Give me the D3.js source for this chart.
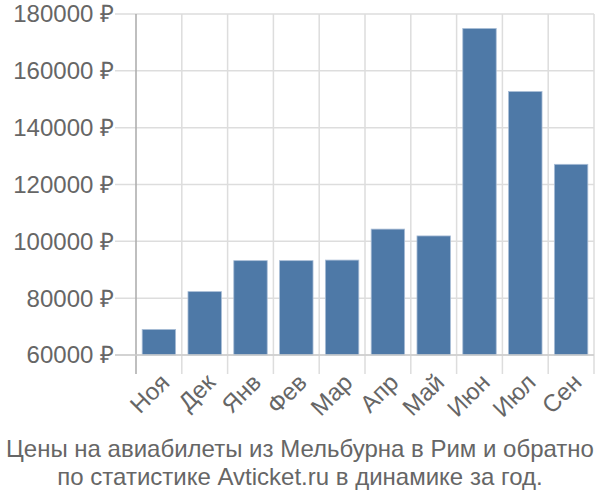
<!DOCTYPE html>
<html><head><meta charset="utf-8">
<script src="https://cdn.jsdelivr.net/npm/d3@7"></script>
<style>body{margin:0;background:#fff}svg{font-family:"Liberation Sans",Arial,sans-serif}</style>
</head><body><svg id="c" width="600" height="500"></svg>
<script>
const months = ["Ноя","Дек","Янв","Фев","Мар","Апр","Май","Июн","Июл","Сен"];
const prices = [69000,82300,93200,93200,93400,104300,101900,174900,152700,127100];
const yTicks = [60000,80000,100000,120000,140000,160000,180000];
const titleLines = ["Цены на авиабилеты из Мельбурна в Рим и обратно","по статистике Avticket.ru в динамике за год."];

const svg = d3.select("#c");
const L=136, R=594, T=14, B=355;
const x = d3.scaleBand().domain(months).range([L,R]).paddingInner(0.27).paddingOuter(0.135);
const xg = d3.scaleBand().domain(months).range([L,R]);
const y = d3.scaleLinear().domain([60000,180000]).range([B,T]);

// horizontal grid
svg.append("g").selectAll("line").data(yTicks).join("line")
  .attr("x1",115).attr("x2",R).attr("y1",d=>y(d)).attr("y2",d=>y(d))
  .attr("stroke","#dddddd").attr("stroke-width",1.5);
// vertical grid
svg.append("g").selectAll("line").data(months).join("line")
  .attr("x1",d=>xg(d)+xg.bandwidth()).attr("x2",d=>xg(d)+xg.bandwidth())
  .attr("y1",T).attr("y2",374).attr("stroke","#dddddd").attr("stroke-width",1.5);

// bars
svg.append("g").selectAll("rect").data(prices).join("rect")
  .attr("x",(d,i)=>x(months[i])).attr("width",x.bandwidth())
  .attr("y",d=>y(d)).attr("height",d=>B-y(d))
  .attr("fill","#4e79a7").attr("stroke","#a9bdd6").attr("stroke-width",0.8);

// axis lines
svg.append("line").attr("x1",L).attr("x2",L).attr("y1",T).attr("y2",374).attr("stroke","#aaaaaa").attr("stroke-width",1.5);
svg.append("line").attr("x1",115).attr("x2",R).attr("y1",B).attr("y2",B).attr("stroke","#cccccc").attr("stroke-width",1.5);

// y labels
svg.append("g").selectAll("text").data(yTicks).join("text")
  .attr("x",114).attr("y",d=>y(d)).attr("dy","0.35em").attr("text-anchor","end")
  .attr("font-size",24).attr("fill","#666").text(d=>d+" ₽");

// x labels
svg.append("g").selectAll("text").data(months).join("text")
  .attr("transform",d=>`translate(${xg(d)+xg.bandwidth()/2+6},${378}) rotate(-45)`)
  .attr("text-anchor","end").attr("dy","0.35em")
  .attr("font-size",24).attr("fill","#666").text(d=>d);

// title
svg.append("g").selectAll("text").data(titleLines).join("text")
  .attr("x",300).attr("y",(d,i)=>457+i*28).attr("text-anchor","middle")
  .attr("font-size",24).attr("fill","#666").text(d=>d);
</script></body></html>
